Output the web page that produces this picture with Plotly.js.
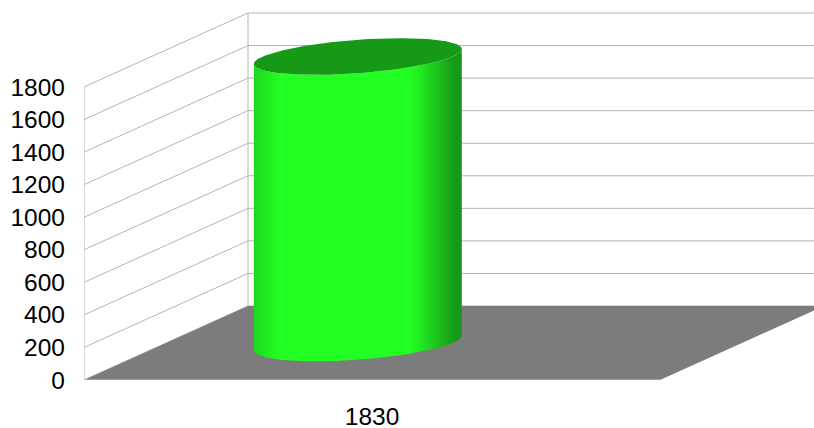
<!DOCTYPE html>
<html>
<head>
<meta charset="utf-8">
<script src="https://cdn.plot.ly/plotly-3.0.1.min.js"></script>
<style>html,body{margin:0;padding:0;background:#fff;overflow:hidden}#chart{width:814px;height:428px}</style>
</head>
<body>
<div id="chart"></div>
<script>
// Data
var categories = ['1830'];
var values = [1760];
var yTicks = [0, 200, 400, 600, 800, 1000, 1200, 1400, 1600, 1800];

// Oblique projection expressed in axis units
var pxPerX = 576, pxPerVal = 293 / 1800;
var depthX = 164 / pxPerX, depthVal = 74 / pxPerVal;
function pt(x, v, d) { return [x + d * depthX, v + d * depthVal]; }

var gridColor = '#b4b4b4';
var traces = [];
function base(o) { o.mode = o.mode || 'lines'; o.hoverinfo = 'skip'; o.showlegend = false; o.cliponaxis = false; return o; }

// Walls and gridlines
var gx = [], gy = [];
yTicks.forEach(function (v) {
  [pt(0, v, 0), pt(0, v, 1), pt(1, v, 1)].forEach(function (p) { gx.push(p[0]); gy.push(p[1]); });
  gx.push(null); gy.push(null);
});
var maxTick = yTicks[yTicks.length - 1];
[[0, 0, 0], [0, maxTick, 0], null, [0, 0, 1], [0, maxTick, 1]].forEach(function (a) {
  if (a) { var p = pt(a[0], a[1], a[2]); gx.push(p[0]); gy.push(p[1]); } else { gx.push(null); gy.push(null); }
});
traces.push(base({ x: gx, y: gy, line: { color: gridColor, width: 1 } }));

// Floor
var floor = [pt(0, 0, 0), pt(1, 0, 0), pt(1, 0, 1), pt(0, 0, 1), pt(0, 0, 0)];
traces.push(base({
  x: floor.map(function (p) { return p[0]; }), y: floor.map(function (p) { return p[1]; }),
  fill: 'toself', fillcolor: '#7c7c7c', line: { width: 0, color: '#7c7c7c' }
}));
traces.push(base({ x: [0, 1], y: [0, 0], line: { color: '#c4c4c4', width: 1 } }));

// Cylinder
var barCenter = 0.333, barDepth = 0.5;
var ux = 104 / pxPerX, uv = 7.5 / pxPerVal, wv = 16.7 / pxPerVal;
function ell(value, t) {
  var c = pt(barCenter, value, barDepth);
  return [c[0] + Math.cos(t) * ux, c[1] + Math.cos(t) * uv - Math.sin(t) * wv];
}
categories.forEach(function (cat, i) {
  var val = values[i], bx = [], by = [], k, p, N = 90;
  for (k = 0; k <= N; k++) { p = ell(0, Math.PI - Math.PI * k / N); bx.push(p[0]); by.push(p[1]); }
  for (k = 0; k <= N; k++) { p = ell(val, Math.PI * k / N); bx.push(p[0]); by.push(p[1]); }
  bx.push(bx[0]); by.push(by[0]);
  traces.push(base({
    x: bx, y: by, fill: 'toself', line: { width: 0, color: 'rgba(0,0,0,0)' },
    fillgradient: {
      type: 'horizontal',
      colorscale: [[0, '#1ed81e'], [0.06, '#20ea20'], [0.13, '#22ff22'], [0.75, '#22ff22'],
                   [0.82, '#20e020'], [0.90, '#1bb91b'], [0.97, '#169916'], [1, '#169916']]
    }
  }));
  var tx = [], ty = [];
  for (k = 0; k <= 2 * N; k++) { p = ell(val, Math.PI * k / N); tx.push(p[0]); ty.push(p[1]); }
  traces.push(base({ x: tx, y: ty, fill: 'toself', fillcolor: '#169916', line: { width: 0, color: '#169916' } }));
});

var font = { family: 'Liberation Sans, Arial, sans-serif', size: 24.5, color: '#000' };
var layout = {
  width: 814, height: 428,
  margin: { l: 84, r: 0, t: 0, b: 48, pad: 0 },
  paper_bgcolor: '#fff', plot_bgcolor: '#fff',
  showlegend: false,
  xaxis: {
    range: [0, 730 / pxPerX], showgrid: false, zeroline: false, showline: false,
    tickmode: 'array', tickvals: categories.map(function (c, i) { return (i + 0.5) / categories.length; }),
    ticktext: categories, ticks: '', tickfont: font, ticklabelstandoff: 19
  },
  yaxis: {
    range: [0, 380 / pxPerVal], showgrid: false, zeroline: false, showline: false,
    tickmode: 'array', tickvals: yTicks, ticktext: yTicks.map(String),
    ticks: '', tickfont: font, ticklabelstandoff: 18, ticklabelshift: 1.5
  }
};
Plotly.newPlot('chart', traces, layout, { displayModeBar: false, staticPlot: true });
</script>
</body>
</html>
